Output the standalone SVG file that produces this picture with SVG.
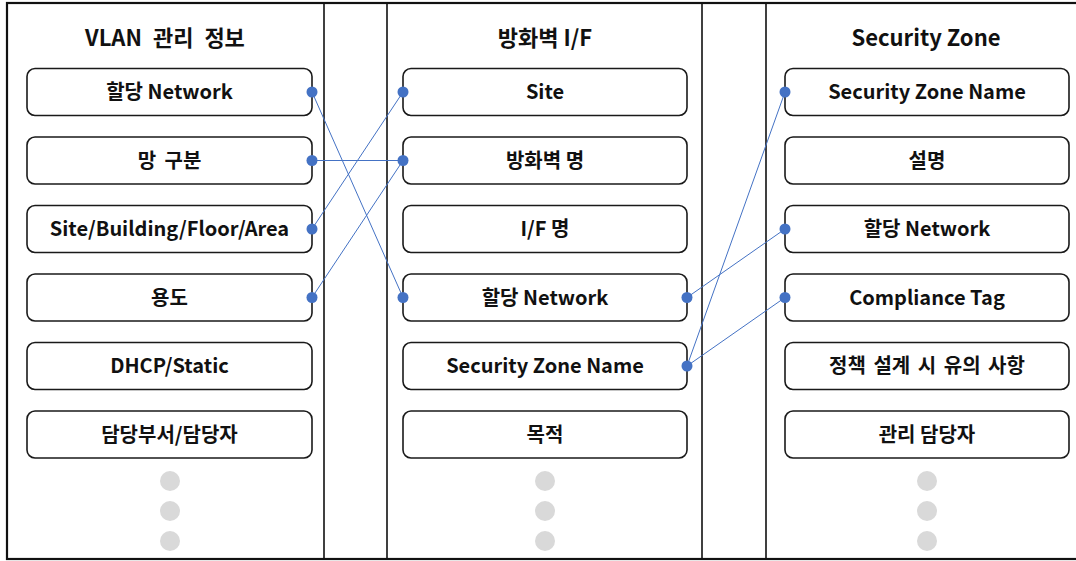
<svg xmlns="http://www.w3.org/2000/svg" width="1076" height="561" viewBox="0 0 1076 561">
  <defs>
    <style>
      .panel { fill: #ffffff; stroke: #111111; stroke-width: 1.6; }
      .frame { fill: none; stroke: #111111; stroke-width: 2.2; }
      .box { fill: #ffffff; stroke: #1a1a1a; stroke-width: 1.6; }
      .title { font-family: "Noto Sans CJK KR", "Noto Sans", sans-serif; font-weight: 700; font-size: 22px; fill: #111111; text-anchor: middle; }
      .label { font-family: "Noto Sans CJK KR", "Noto Sans", sans-serif; font-weight: 700; font-size: 20px; fill: #111111; text-anchor: middle; }
      .more { fill: #d9d9d9; }
      .link { stroke: #4472c4; stroke-width: 1; fill: none; }
      .pin { fill: #4472c4; }
    </style>
  </defs>

  <rect width="1076" height="561" fill="#ffffff"/>

  <!-- column panels -->
  <rect class="panel" x="7" y="3" width="317" height="556"/>
  <rect class="panel" x="387" y="3" width="315" height="556"/>
  <rect class="panel" x="766" y="3" width="320" height="556"/>
  <rect class="frame" x="7" y="3" width="1080" height="556"/>

  <!-- VLAN management column -->
  <g id="vlan">
    <text class="title" x="165" y="46" word-spacing="6">VLAN 관리 정보</text>
    <g id="vlan-network"><rect class="box" x="27" y="68.5" width="285" height="47" rx="8"/><text class="label" x="169.5" y="99">할당 Network</text></g>
    <g id="vlan-zone"><rect class="box" x="27" y="137" width="285" height="47" rx="8"/><text class="label" x="169.5" y="167.5" word-spacing="4">망 구분</text></g>
    <g id="vlan-site"><rect class="box" x="27" y="205.5" width="285" height="47" rx="8"/><text class="label" x="169.5" y="236">Site/Building/Floor/Area</text></g>
    <g id="vlan-usage"><rect class="box" x="27" y="274" width="285" height="47" rx="8"/><text class="label" x="169.5" y="304.5">용도</text></g>
    <g id="vlan-dhcp"><rect class="box" x="27" y="342.5" width="285" height="47" rx="8"/><text class="label" x="169.5" y="373">DHCP/Static</text></g>
    <g id="vlan-owner"><rect class="box" x="27" y="411" width="285" height="47" rx="8"/><text class="label" x="169.5" y="441.5">담당부서/담당자</text></g>
    <circle class="more" cx="170" cy="481" r="10"/>
    <circle class="more" cx="170" cy="511" r="10"/>
    <circle class="more" cx="170" cy="541" r="10"/>
  </g>

  <!-- firewall interface column -->
  <g id="firewall">
    <text class="title" x="545" y="46">방화벽 I/F</text>
    <g id="fw-site"><rect class="box" x="403" y="68.5" width="284" height="47" rx="8"/><text class="label" x="545" y="99">Site</text></g>
    <g id="fw-name"><rect class="box" x="403" y="137" width="284" height="47" rx="8"/><text class="label" x="545" y="167.5">방화벽 명</text></g>
    <g id="fw-if"><rect class="box" x="403" y="205.5" width="284" height="47" rx="8"/><text class="label" x="545" y="236">I/F 명</text></g>
    <g id="fw-network"><rect class="box" x="403" y="274" width="284" height="47" rx="8"/><text class="label" x="545" y="304.5">할당 Network</text></g>
    <g id="fw-zone"><rect class="box" x="403" y="342.5" width="284" height="47" rx="8"/><text class="label" x="545" y="373">Security Zone Name</text></g>
    <g id="fw-purpose"><rect class="box" x="403" y="411" width="284" height="47" rx="8"/><text class="label" x="545" y="441.5">목적</text></g>
    <circle class="more" cx="545" cy="481" r="10"/>
    <circle class="more" cx="545" cy="511" r="10"/>
    <circle class="more" cx="545" cy="541" r="10"/>
  </g>

  <!-- security zone column -->
  <g id="security-zone">
    <text class="title" x="926" y="46">Security Zone</text>
    <g id="sz-name"><rect class="box" x="785" y="68.5" width="284" height="47" rx="8"/><text class="label" x="927" y="99">Security Zone Name</text></g>
    <g id="sz-desc"><rect class="box" x="785" y="137" width="284" height="47" rx="8"/><text class="label" x="927" y="167.5">설명</text></g>
    <g id="sz-network"><rect class="box" x="785" y="205.5" width="284" height="47" rx="8"/><text class="label" x="927" y="236">할당 Network</text></g>
    <g id="sz-tag"><rect class="box" x="785" y="274" width="284" height="47" rx="8"/><text class="label" x="927" y="304.5">Compliance Tag</text></g>
    <g id="sz-notes"><rect class="box" x="785" y="342.5" width="284" height="47" rx="8"/><text class="label" x="927" y="373" word-spacing="3">정책 설계 시 유의 사항</text></g>
    <g id="sz-admin"><rect class="box" x="785" y="411" width="284" height="47" rx="8"/><text class="label" x="927" y="441.5">관리 담당자</text></g>
    <circle class="more" cx="927" cy="481" r="10"/>
    <circle class="more" cx="927" cy="511" r="10"/>
    <circle class="more" cx="927" cy="541" r="10"/>
  </g>

  <!-- field mappings -->
  <g id="connectors">
    <line class="link" x1="312" y1="92" x2="403" y2="297.5"/>
    <line class="link" x1="312" y1="160.5" x2="403" y2="160.5"/>
    <line class="link" x1="312" y1="229" x2="403" y2="92"/>
    <line class="link" x1="312" y1="297.5" x2="403" y2="160.5"/>
    <line class="link" x1="687" y1="297.5" x2="785" y2="229"/>
    <line class="link" x1="687" y1="366" x2="785" y2="92"/>
    <line class="link" x1="687" y1="366" x2="785" y2="297.5"/>
    <circle class="pin" cx="312" cy="92" r="5.5"/>
    <circle class="pin" cx="312" cy="160.5" r="5.5"/>
    <circle class="pin" cx="312" cy="229" r="5.5"/>
    <circle class="pin" cx="312" cy="297.5" r="5.5"/>
    <circle class="pin" cx="403" cy="92" r="5.5"/>
    <circle class="pin" cx="403" cy="160.5" r="5.5"/>
    <circle class="pin" cx="403" cy="297.5" r="5.5"/>
    <circle class="pin" cx="687" cy="297.5" r="5.5"/>
    <circle class="pin" cx="687" cy="366" r="5.5"/>
    <circle class="pin" cx="785" cy="92" r="5.5"/>
    <circle class="pin" cx="785" cy="229" r="5.5"/>
    <circle class="pin" cx="785" cy="297.5" r="5.5"/>
  </g>
</svg>
